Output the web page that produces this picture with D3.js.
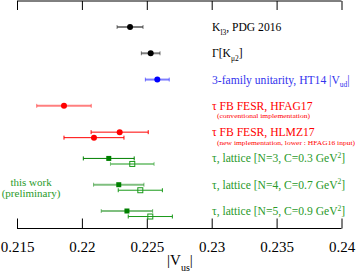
<!DOCTYPE html>
<html><head><meta charset="utf-8">
<script src="https://cdn.jsdelivr.net/npm/d3@7"></script>
<style>body{margin:0;background:#fff}svg{display:block}text{font-family:"Liberation Serif","Times New Roman",serif}</style>
</head><body><svg id="c" width="357" height="273"></svg>
<script>
// ---- data ----
const names = ["Kl3","GammaKmu2","unitarity","HFAG17","HLMZ17a","HLMZ17b","N3f","N3o","N4f","N4o","N5f","N5o"];
const rows   = [0,1,2,3,4,4,5,5,6,6,7,7];
const subs   = [0,0,0,0,0,1,0,1,0,1,0,1];
const values = [0.22371,0.22530,0.22581,0.21862,0.22291,0.22093,0.22207,0.22388,0.22284,0.22450,0.22347,0.22527];
const errors = [0.00100,0.00072,0.00092,0.00210,0.00220,0.00231,0.00196,0.00168,0.00194,0.00170,0.00198,0.00170];
const markers= ["circle","circle","circle","circle","circle","circle","square","open","square","open","square","open"];
const colors = ["#000","#000","#0000ff","#ff0000","#ff0000","#ff0000","#008000","#1a9a1a","#008000","#1a9a1a","#008000","#1a9a1a"];
const barStyle = ["light","light","light","light","dark","dark","dark","light","light","dark","light","dark"];
const xTicks = [0.215,0.22,0.225,0.23,0.235,0.24];
const xDomain = [0.215,0.24];

const labels = [
  {row:0, color:"#000", parts:[["K",0],["l3",1],[", PDG 2016",0]]},
  {row:1, color:"#000", parts:[["Γ[K",0],["μ2",1],["]",0]]},
  {row:2, color:"#3333ee", parts:[["3-family unitarity, HT14 |V",0],["ud",1],["|",0]]},
  {row:3, color:"#ff0000", parts:[["τ FB FESR, HFAG17",0]], note:"(conventional implementation)", noteW:93},
  {row:4, color:"#ff0000", parts:[["τ FB FESR, HLMZ17",0]], note:"(new implementation, lower : HFAG16 input)", noteW:138},
  {row:5, color:"#2a9a2a", parts:[["τ, lattice [N=3, C=0.3 GeV",0],["2",2],["]",0]]},
  {row:6, color:"#2a9a2a", parts:[["τ, lattice [N=4, C=0.7 GeV",0],["2",2],["]",0]]},
  {row:7, color:"#2a9a2a", parts:[["τ, lattice [N=5, C=0.9 GeV",0],["2",2],["]",0]]}
];
const sideNote = ["this work","(preliminary)"];

// ---- drawing ----
const svg = d3.select("#c");
const x = d3.scaleLinear().domain(xDomain).range([17, 341.5]);
const y = d3.scaleLinear().domain([0,7]).range([27, 211]);
const subOff = 0.21;
const yTop = 1, yBot = 228.5;

// axes
const minor = d3.range(0.215, 0.24001, 0.001);
const axBot = d3.axisTop(x).tickValues(xTicks).tickSize(10).tickFormat(d=>String(+d.toFixed(3)));
const axBotMinor = d3.axisTop(x).tickValues(minor).tickSize(5).tickFormat("");
const gb = svg.append("g").attr("transform",`translate(0,${yBot})`);
gb.call(axBotMinor); gb.call(axBot);
gb.selectAll(".domain").attr("d",`M${x(0.215)},0H${x(0.24)}`);
gb.selectAll("text").attr("y",23).attr("dy",0).style("font-size","15px").attr("fill","#000").style("font-family","Liberation Serif");
const gt = svg.append("g").attr("transform",`translate(0,${yTop})`);
gt.call(d3.axisBottom(x).tickValues(minor).tickSize(4).tickFormat(""));
gt.call(d3.axisBottom(x).tickValues(xTicks).tickSize(9).tickFormat(""));
gt.selectAll(".domain").attr("d",`M${x(0.215)},0H${x(0.24)}`);
svg.selectAll(".tick line, .domain").attr("stroke","#000").attr("stroke-width",1);

// axis title
const tt = svg.append("text").attr("x",180).attr("y",265).attr("text-anchor","middle").style("font-size","15px");
tt.append("tspan").text("|V");
tt.append("tspan").attr("dy",6).style("font-size","10px").text("us");
tt.append("tspan").attr("dy",-6).text("|");

// error bars & points
const data = names.map((n,i)=>({n, row:rows[i], sub:subs[i], v:values[i], e:errors[i], m:markers[i], c:colors[i], s:barStyle[i]}));
const yy = d => y(d.row + d.sub*subOff);
const g = svg.append("g");
data.forEach(d=>{
  const light = d.s==="light";
  const gg = g.append("g").attr("stroke",d.c).attr("stroke-opacity",light?0.5:1).attr("stroke-width",light?2:1);
  gg.append("line").attr("x1",x(d.v-d.e)).attr("x2",x(d.v+d.e)).attr("y1",yy(d)).attr("y2",yy(d));
  [d.v-d.e,d.v+d.e].forEach(v=>gg.append("line").attr("x1",x(v)).attr("x2",x(v)).attr("y1",yy(d)-2).attr("y2",yy(d)+2).attr("stroke-width",1));
  if(d.m==="circle"){
    g.append("circle").attr("cx",x(d.v)).attr("cy",yy(d)).attr("r",3).attr("fill",d.c);
  } else if(d.m==="square"){
    g.append("rect").attr("x",x(d.v)-2.5).attr("y",yy(d)-2.5).attr("width",5).attr("height",5).attr("fill",d.c);
  } else {
    g.append("rect").attr("x",x(d.v)-2.5).attr("y",yy(d)-2.5).attr("width",5).attr("height",5).attr("fill","none").attr("stroke",d.c).attr("stroke-width",1);
  }
});

// labels
labels.forEach(L=>{
  const t = svg.append("text").attr("x",212).attr("y",y(L.row)+4).attr("fill",L.color).style("font-size","11.6px");
  let cur = 0;
  L.parts.forEach(([s,k])=>{
    const target = k===1?3.5:(k===2?-4.5:0);
    const ts = t.append("tspan").attr("dy",target-cur).text(s);
    if(k) ts.style("font-size","7.5px");
    cur = target;
  });
  if(L.note) svg.append("text").attr("x",217).attr("y",y(L.row)+12.5).attr("fill",L.color)
    .style("font-size","6.6px").attr("textLength",L.noteW).attr("lengthAdjust","spacingAndGlyphs").text(L.note);
});
sideNote.forEach((s,i)=>svg.append("text").attr("x",31).attr("y",186+i*10.5).attr("text-anchor","middle").attr("fill","#2a9a2a").style("font-size","11px").text(s));
</script></body></html>
